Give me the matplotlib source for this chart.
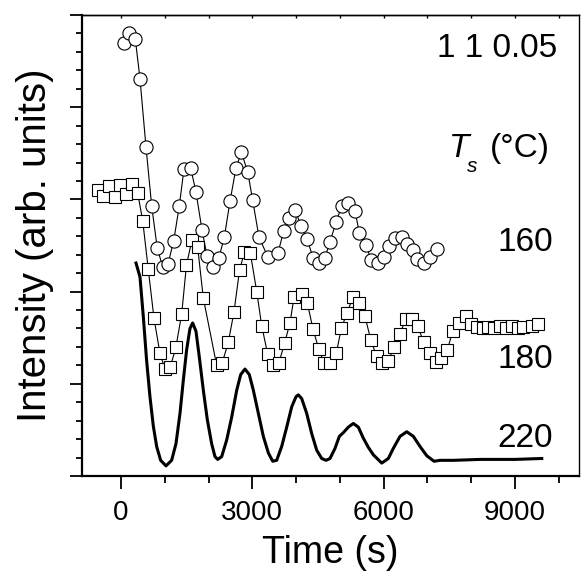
import matplotlib
matplotlib.use("Agg")
import matplotlib.pyplot as plt
from matplotlib.ticker import MultipleLocator, NullFormatter

plt.rcParams['font.family'] = ['Liberation Sans', 'DejaVu Sans']

# Ts = 160 C (circles)
time_160 = [69, 190, 327, 434, 571, 701, 829, 953, 1074, 1204, 1332, 1439, 1592, 1713,
            1850, 1964, 2102, 2232, 2360, 2490, 2627, 2748, 2894, 3008, 3152, 3351,
            3586, 3717, 3838, 3982, 4112, 4249, 4393, 4516, 4653, 4774, 4911, 5041,
            5192, 5345, 5444, 5596, 5711, 5864, 6007, 6129, 6259, 6412, 6540, 6663,
            6768, 6921, 7058, 7211]
intensity_160 = [4.70, 4.80, 4.74, 4.31, 3.57, 2.93, 2.47, 2.27, 2.30, 2.55, 2.93, 3.33,
                 3.34, 3.08, 2.67, 2.39, 2.27, 2.36, 2.59, 2.98, 3.34, 3.51, 3.30, 2.99,
                 2.59, 2.38, 2.42, 2.66, 2.80, 2.88, 2.71, 2.57, 2.36, 2.31, 2.36, 2.54,
                 2.75, 2.93, 2.96, 2.87, 2.64, 2.51, 2.34, 2.31, 2.38, 2.49, 2.58, 2.59,
                 2.52, 2.45, 2.35, 2.31, 2.38, 2.46]

# Ts = 180 C (squares)
time_180 = [-532, -404, -274, -137, -23, 114, 244, 381, 496, 624, 754, 891, 1005, 1126,
            1256, 1387, 1496, 1622, 1752, 1880, 2186, 2314, 2451, 2581, 2707, 2821,
            2954, 3100, 3214, 3351, 3479, 3609, 3735, 3860, 3952, 4128, 4256, 4386,
            4516, 4637, 4774, 4916, 5032, 5162, 5299, 5436, 5567, 5704, 5836, 5962,
            6106, 6236, 6373, 6499, 6640, 6773, 6914, 7051, 7184, 7310, 7454, 7577,
            7709, 7869, 7995, 8125, 8258, 8390, 8527, 8657, 8788, 8925, 9062, 9190,
            9381, 9518]
intensity_180 = [3.10, 3.04, 3.15, 3.03, 3.16, 3.06, 3.17, 3.07, 2.77, 2.24, 1.71, 1.33,
                 1.16, 1.18, 1.40, 1.76, 2.29, 2.56, 2.48, 1.93, 1.20, 1.23, 1.45, 1.78,
                 2.23, 2.43, 2.42, 2.00, 1.63, 1.32, 1.20, 1.23, 1.44, 1.66, 1.94, 1.97,
                 1.88, 1.59, 1.38, 1.23, 1.23, 1.33, 1.60, 1.77, 1.94, 1.88, 1.74, 1.48,
                 1.30, 1.23, 1.25, 1.40, 1.54, 1.70, 1.70, 1.63, 1.45, 1.33, 1.24, 1.28,
                 1.37, 1.57, 1.66, 1.74, 1.65, 1.62, 1.61, 1.62, 1.61, 1.63, 1.61, 1.63,
                 1.61, 1.62, 1.63, 1.65]

# Ts = 220 C (continuous line)
time_220 = [343, 434, 510, 586, 662, 739, 815, 906, 1028, 1157, 1256, 1348, 1424, 1500,
            1576, 1637, 1713, 1789, 1881, 1972, 2071, 2147, 2209, 2300, 2414, 2529,
            2643, 2734, 2832, 2931, 3023, 3137, 3251, 3366, 3465, 3556, 3670, 3785,
            3899, 3997, 4050, 4127, 4241, 4356, 4470, 4584, 4683, 4774, 4888, 4987,
            5078, 5192, 5306, 5421, 5535, 5650, 5763, 5955, 6106, 6220, 6373, 6526,
            6677, 6830, 6983, 7150, 7287, 7600, 8200, 9000, 9610]
intensity_220 = [2.31, 2.16, 1.73, 1.25, 0.86, 0.54, 0.32, 0.17, 0.11, 0.17, 0.35, 0.68,
                 1.04, 1.37, 1.60, 1.66, 1.57, 1.29, 0.93, 0.61, 0.35, 0.21, 0.18, 0.21,
                 0.39, 0.64, 0.93, 1.10, 1.16, 1.10, 0.93, 0.68, 0.43, 0.25, 0.16, 0.17,
                 0.32, 0.53, 0.75, 0.86, 0.88, 0.84, 0.68, 0.46, 0.28, 0.19, 0.17, 0.19,
                 0.30, 0.43, 0.47, 0.53, 0.57, 0.53, 0.41, 0.31, 0.23, 0.14, 0.19, 0.30,
                 0.43, 0.48, 0.43, 0.32, 0.22, 0.16, 0.17, 0.17, 0.18, 0.18, 0.19]

labels = ["160", "180", "220"]
label_y = [0.488, 0.234, 0.063]


def draw_chart() -> None:
  figure = plt.figure(figsize=(5.81, 5.76), dpi=100)
  ax = figure.add_axes([82 / 581, 1 - 476 / 576, 497 / 581, 461 / 576])

  ax.plot(time_220, intensity_220, color='black', linewidth=2.2, zorder=2)
  ax.plot(time_180, intensity_180, color='black', linewidth=0.8, marker='s',
          markersize=8, markerfacecolor='white', markeredgecolor='black',
          markeredgewidth=0.8, zorder=3)
  ax.plot(time_160, intensity_160, color='black', linewidth=0.8, marker='o',
          markersize=9.5, markerfacecolor='white', markeredgecolor='black',
          markeredgewidth=0.8, zorder=4)

  ax.set_xlim(-890, 10460)
  ax.set_ylim(0, 5)

  ax.xaxis.set_major_locator(MultipleLocator(3000))
  ax.xaxis.set_minor_locator(MultipleLocator(1000))
  ax.yaxis.set_major_locator(MultipleLocator(1))
  ax.yaxis.set_minor_locator(MultipleLocator(0.2))
  ax.yaxis.set_major_formatter(NullFormatter())

  ax.tick_params(axis='x', which='major', direction='out', length=9, width=1.3,
                 labelsize=20, pad=8, top=False)
  ax.tick_params(axis='x', which='minor', direction='out', length=5, width=1.3, top=False)
  ax.tick_params(axis='y', which='major', direction='out', length=9, width=1.3, right=False)
  ax.tick_params(axis='y', which='minor', direction='out', length=4.5, width=1.3, right=False)

  # short inward ticks along top frame
  top = ax.secondary_xaxis('top')
  top.xaxis.set_major_locator(MultipleLocator(1000))
  top.xaxis.set_major_formatter(NullFormatter())
  top.tick_params(axis='x', direction='in', length=2, width=1)
  top.spines['top'].set_linewidth(1.0)

  ax.spines['left'].set_linewidth(1.6)
  ax.spines['bottom'].set_linewidth(1.6)
  ax.spines['top'].set_linewidth(1.0)
  ax.spines['right'].set_linewidth(1.0)

  ax.set_xlabel("Time (s)", fontsize=27, labelpad=7)
  ax.set_ylabel("Intensity (arb. units)", fontsize=29, labelpad=8)

  ax.text(0.956, 0.909, "1 1 0.05", transform=ax.transAxes, fontsize=24,
          ha='right', va='baseline')
  # T_s (°C) built from pieces so the subscript sits low like the original
  ax.text(0.738, 0.692, "T", transform=ax.transAxes, fontsize=24, style='italic',
          ha='left', va='baseline')
  ax.text(0.775, 0.659, "s", transform=ax.transAxes, fontsize=15, style='italic',
          ha='left', va='baseline')
  ax.text(0.942, 0.692, "(°C)", transform=ax.transAxes, fontsize=24,
          ha='right', va='baseline')
  for text, y in zip(labels, label_y):
    ax.text(0.948, y, text, transform=ax.transAxes, fontsize=24, ha='right', va='baseline')

  plt.savefig("out.png", dpi=100)
  plt.close()


draw_chart()
